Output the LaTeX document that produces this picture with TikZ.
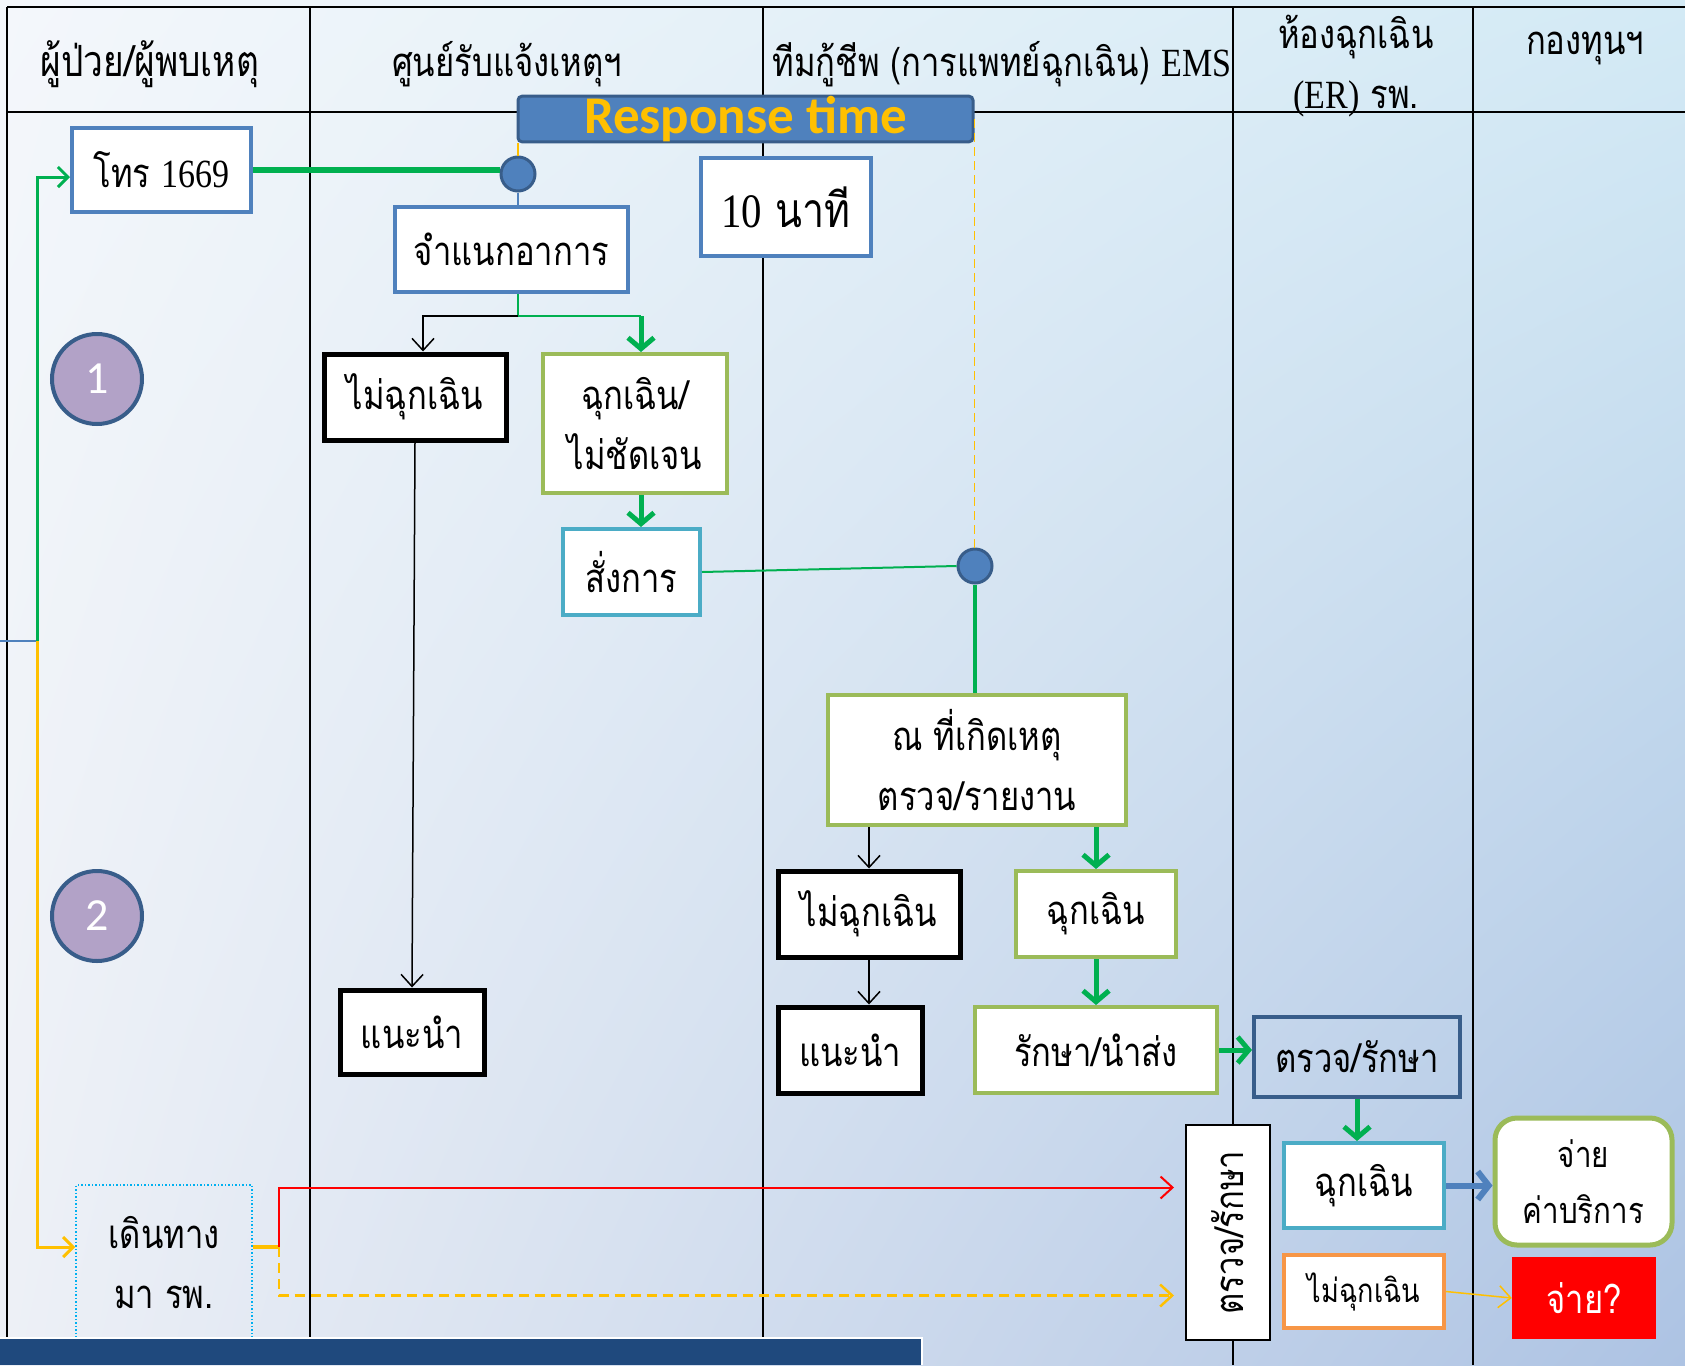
\documentclass[tikz,border=0pt]{standalone}
\usepackage{fontspec}
\setmainfont{Liberation Serif}
\newfontfamily\thf[Script=Thai,FakeStretch=0.82]{Loma}
\newfontfamily\latf[FakeStretch=0.85]{Liberation Serif}
\newfontfamily\calf{Carlito}
\usetikzlibrary{arrows.meta,calc,shadings}
\definecolor{accblue}{HTML}{4F81BD}
\definecolor{darkblue}{HTML}{385D8A}
\definecolor{olive}{HTML}{9BBB59}
\definecolor{aqua}{HTML}{4BACC6}
\definecolor{grn}{HTML}{00B050}
\definecolor{gold}{HTML}{FFC000}
\definecolor{orng}{HTML}{F79646}
\definecolor{lav}{HTML}{B2A2C7}
\definecolor{navy}{HTML}{1F497D}
\definecolor{sky}{HTML}{00B0F0}
\definecolor{redbox}{HTML}{FF0000}
\definecolor{bgul}{HTML}{F4F7FB}
\definecolor{bgur}{HTML}{D3EAF5}
\definecolor{bgll}{HTML}{EDF0F6}
\definecolor{bglr}{HTML}{ADC3E3}
\tikzset{
  txt/.style={font=\fontsize{40}{60}\selectfont\thf},
  bx/.style={draw=#1, fill=white, line width=4pt, inner sep=0pt, align=center, txt},
  hdr/.style={txt, align=center},
  junc/.style={circle, draw=darkblue, fill=accblue, line width=3pt, minimum size=34pt, inner sep=0pt},
  numc/.style={circle, draw=darkblue, fill=lav, line width=4pt, minimum size=90pt, inner sep=0pt, text=white, font=\fontsize{46}{50}\selectfont\calf},
  garrow/.style={draw=grn, line width=5pt, -{Straight Barb[length=11pt,width=26pt]}},
  gline/.style={draw=grn, line width=2pt},
  barrow/.style={draw=black, line width=1.5pt, -{Straight Barb[length=12pt,width=22pt]}},
  tline/.style={line width=2pt, draw=black}
}
\begin{document}
\begin{tikzpicture}[x=1pt,y=-1pt]
\useasboundingbox (0,0) rectangle (1685,1365);
\shade[upper left=bgul, upper right=bgur, lower left=bgll, lower right=bglr]
  (0,0) rectangle (1685,1365);
% table
\draw[tline] (7,7) -- (1685,7);
\draw[tline] (7,112) -- (1685,112);
\foreach \xx in {7,309.5,763,1232.5,1473} \draw[tline] (\xx,7) -- (\xx,1365);
% headers
\node[hdr, font=\fontsize{43}{60}\selectfont\thf] (h1) at (150,64) {ผู้ป่วย/ผู้พบเหตุ};
\node[hdr] (h2) at (507,64) {ศูนย์รับแจ้งเหตุฯ};
\node[hdr] (h3) at (1002,64) {ทีมกู้ชีพ (การแพทย์ฉุกเฉิน) {\latf EMS}};
\node[hdr] (h4) at (1356,66) {ห้องฉุกเฉิน\\{\latf (ER)} รพ.};
\node[hdr] (h5) at (1585,48) {กองทุนฯ};
% nodes
\node[draw=darkblue, fill=accblue, line width=3pt, rounded corners=4pt, minimum width=455pt, minimum height=44pt, inner sep=0pt,
      text=gold, font=\fontsize{53}{53}\selectfont\calf\bfseries] (resp) at (745.5,119) {Response time};
\node[junc] (j1) at (518,174) {};
\node[bx=accblue, minimum width=179pt, minimum height=84pt] (call) at (161.5,170) {โทร {\latf 1669}};
\node[bx=accblue, minimum width=233pt, minimum height=85pt] (classify) at (511.5,249.5) {จำแนกอาการ};
\node[bx=accblue, minimum width=170pt, minimum height=98pt, font=\fontsize{48}{60}\selectfont\thf] (ten) at (786,207) {{\latf 10} นาที};
\node[bx=black, line width=5pt, minimum width=182pt, minimum height=86pt] (nonem1) at (415,397) {ไม่ฉุกเฉิน};
\node[bx=olive, minimum width=184pt, minimum height=139pt] (emunc) at (635,423.5) {ฉุกเฉิน/\\ไม่ชัดเจน};
\node[bx=aqua, minimum width=137pt, minimum height=86pt] (order) at (631.5,572) {สั่งการ};
\node[bx=black, line width=5pt, minimum width=144pt, minimum height=84pt] (adv1) at (412,1032) {แนะนำ};
\node[junc] (j2) at (975,566) {};
\node[bx=olive, minimum width=298pt, minimum height=130pt] (scene) at (977,760) {ณ ที่เกิดเหตุ\\ตรวจ/รายงาน};
\node[bx=black, line width=5pt, minimum width=182pt, minimum height=86pt] (nonem2) at (869,914) {ไม่ฉุกเฉิน};
\node[bx=olive, minimum width=160pt, minimum height=86pt] (em2) at (1096,914) {ฉุกเฉิน};
\node[bx=black, line width=5pt, minimum width=144pt, minimum height=86pt] (adv2) at (850,1050) {แนะนำ};
\node[bx=olive, minimum width=242pt, minimum height=86pt] (treat) at (1096,1050) {รักษา/นำส่ง};
\node[draw=darkblue, line width=4pt, inner sep=0pt, txt, minimum width=206pt, minimum height=80pt] (check) at (1357,1057) {ตรวจ/รักษา};
\node[bx=aqua, minimum width=160pt, minimum height=85pt] (em3) at (1364,1185.5) {ฉุกเฉิน};
\node[bx=olive, line width=5pt, rounded corners=22pt, minimum width=177pt, minimum height=127pt,
      font=\fontsize{36}{56}\selectfont\thf] (pay) at (1583.5,1181.5) {จ่าย\\ค่าบริการ};
\node[bx=orng, minimum width=160pt, minimum height=73pt, font=\fontsize{33}{40}\selectfont\thf] (nonem3) at (1364,1291.5) {ไม่ฉุกเฉิน};
\node[fill=redbox, inner sep=0pt, minimum width=144pt, minimum height=82pt, text=white, txt] (payq) at (1584,1298) {จ่าย?};
\node[draw=black, fill=white, line width=2pt, minimum width=84pt, minimum height=215pt, inner sep=0pt] (vbox) at (1228,1232.5) {};
\node[txt, rotate=90] (vboxtxt) at (vbox.center) {ตรวจ/รักษา};
\node[draw=sky, dotted, line width=1.5pt, minimum width=176pt, minimum height=155pt, inner sep=0pt, txt, align=center] (walk) at (164,1262.5) {เดินทาง\\มา รพ.};
\node[numc] (n1) at (97,379) {1};
\node[numc] (n2) at (97,916) {2};
% connectors: left side
\coordinate (lin) at (0,641);
\coordinate (lj) at (37,641);
\draw[draw=accblue, line width=2pt] (lin) -- (lj);
\draw[draw=grn, line width=3pt, -{Straight Barb[length=10pt,width=20pt]}] (lj) |- ([yshift=-7pt]call.west);
\draw[draw=gold, line width=3pt, -{Straight Barb[length=10pt,width=20pt]}] (lj) |- ([yshift=15.5pt]walk.west);
% top
\draw[draw=grn, line width=6pt] (call.east) -- (call.east -| j1.west);
\draw[draw=gold, line width=1.5pt] (j1.north) -- (j1 |- resp.south);
\draw[draw=accblue, line width=1.5pt] (j1.south) -- (j1 |- classify.north);
\draw[draw=gold, line width=1.5pt, dash pattern=on 9pt off 5pt] (resp.east) -- (resp.east |- j2.north);
\coordinate (cs) at (j1 |- classify.south);
\coordinate (cm) at ($(cs)+(0,22)$);
\coordinate (cg) at ($(cm -| emunc.north)+(6,0)$);
\draw[gline] (cs) -- (cm) -- (cg);
\draw[garrow] (cg) -- ([xshift=6pt]emunc.north);
\draw[barrow] (cm) -| ([xshift=8pt]nonem1.north);
\draw[garrow] ([xshift=6pt]emunc.south) -- ([xshift=6pt]emunc.south |- order.north);
\draw[barrow] (nonem1.south) -- (adv1.north);
\draw[gline] (order.east) -- (j2.west);
\draw[draw=grn, line width=4pt] (j2.south) -- (j2 |- scene.north);
\draw[barrow] (scene.south -| nonem2.north) -- (nonem2.north);
\draw[garrow] (scene.south -| em2.north) -- (em2.north);
\draw[barrow] (nonem2.south) -- (nonem2.south |- adv2.north);
\draw[garrow] (em2.south) -- (treat.north);
\draw[garrow] (treat.east) -- (treat.east -| check.west);
\draw[garrow] (check.south) -- (check.south |- em3.north);
\draw[draw=accblue, line width=6pt, -{Straight Barb[length=11pt,width=28pt]}] (em3.east) -- (em3.east -| pay.west);
\draw[draw=gold, line width=1.5pt, -{Straight Barb[length=12pt,width=22pt]}] (nonem3.east) -- (payq.west);
% walk-in
\coordinate (wj) at (279,1247);
\draw[draw=gold, line width=4pt] ([yshift=15.5pt]walk.east) -- (wj);
\draw[draw=red, line width=2pt, shorten >=11pt, -{Straight Barb[length=12pt,width=22pt]}] (wj) |- ([yshift=45pt]vbox.west);
\draw[draw=gold, line width=2.5pt, dash pattern=on 10pt off 6pt, shorten >=11pt, -{Straight Barb[length=12pt,width=22pt]}] (wj) |- ([yshift=-63pt]vbox.west);
% bottom bar
\fill[navy] (0,1338) rectangle (922,1365);
\draw[white, line width=1.5pt] (0,1338) -- (922,1338) -- (922,1365);
\end{tikzpicture}
\end{document}
